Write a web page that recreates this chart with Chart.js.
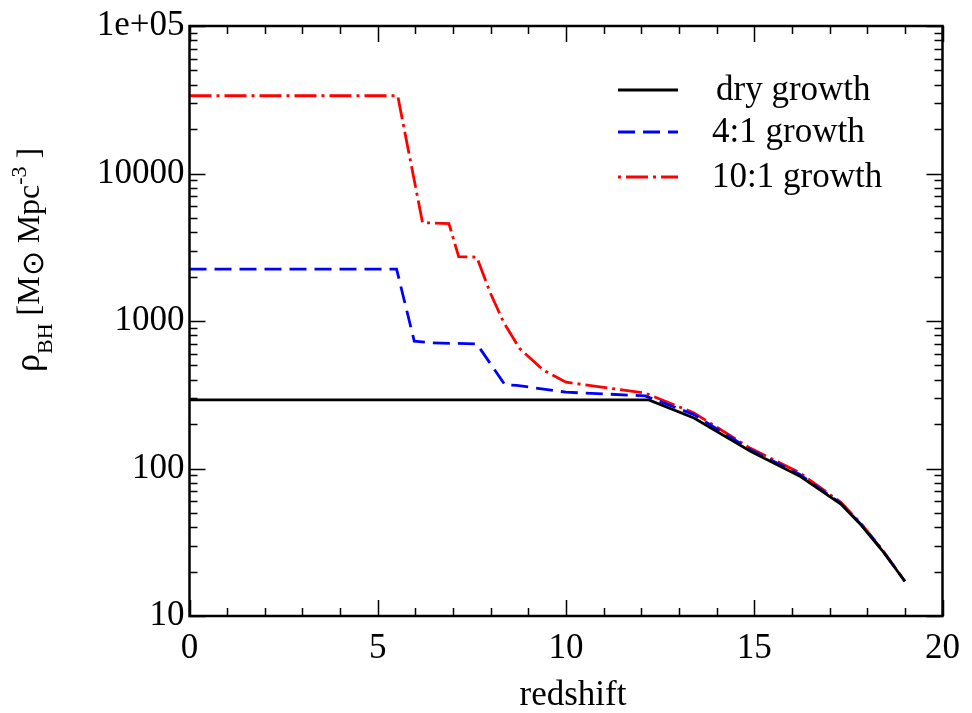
<!DOCTYPE html>
<html lang="en">
<head>
<meta charset="UTF-8">
<title>Black hole mass density vs redshift</title>
<script src="https://cdn.jsdelivr.net/npm/chart.js"></script>
<style>
  body { margin: 0; background: #fff; }
  canvas { display: block; }
</style>
</head>
<body>
<canvas id="bhChart" width="972" height="713"></canvas>
<script>
  // values
  const dryZ = [0, 12.2, 13.4, 14.9, 16.2, 17.3, 17.85, 18.4, 19.0];
  const dryRho = [292, 292, 220, 131, 89, 57.4, 41, 27.8, 17.2];

  const wet4Z = [0, 5.5, 5.97, 6.45, 7.63, 8.38, 8.69, 10.0, 12.1, 13.4, 14.9, 16.2, 17.3, 17.85, 18.4, 19.0];
  const wet4Rho = [2250, 2250, 730, 710, 700, 369, 366, 329, 311, 232, 134, 91.4, 58, 41.5, 28, 17.2];

  const wet10Z = [0, 5.53, 6.19, 6.89, 7.15, 7.63, 7.98, 8.34, 8.77, 9.39, 10.0, 11.13, 12.1, 13.4, 14.9, 16.2, 17.3, 17.85, 18.4, 19.0];
  const wet10Rho = [33650, 33650, 4640, 4570, 2730, 2710, 1570, 984, 650, 466, 385, 351, 325, 238, 137, 93.8, 59, 42, 28.2, 17.2];

  const yTickValues = [10, 100, 1000, 10000, 100000];
  const yTickLabels = ['10', '100', '1000', '10000', '1e+05'];
  const xTickValues = [0, 5, 10, 15, 20];
  const seriesNames = ['dry growth', '4:1 growth', '10:1 growth'];

  const FONT = "'Liberation Serif', 'Times New Roman', serif";
  const toPoints = (xs, ys) => xs.map((x, i) => ({ x: x, y: ys[i] }));

  const series = [
    { label: seriesNames[0], data: toPoints(dryZ, dryRho), color: '#000000', dash: [] },
    { label: seriesNames[1], data: toPoints(wet4Z, wet4Rho), color: '#0000ff', dash: [17, 8] },
    { label: seriesNames[2], data: toPoints(wet10Z, wet10Rho), color: '#ff0000', dash: [22, 5, 3, 5] }
  ];

  // frame, inward ticks, legend and axis titles (grace style)
  const graceDecor = {
    id: 'graceDecor',
    afterDraw(chart) {
      const ctx = chart.ctx;
      const a = chart.chartArea;
      const xs = chart.scales.x, ys = chart.scales.y;
      ctx.save();
      ctx.strokeStyle = '#000';

      // ticks
      ctx.lineWidth = 1.5;
      ctx.beginPath();
      for (let v = 0; v <= 20; v++) {
        const px = Math.round(xs.getPixelForValue(v)) + 0.5;
        const len = v % 5 === 0 ? 16 : 8;
        ctx.moveTo(px, a.bottom); ctx.lineTo(px, a.bottom - len);
        ctx.moveTo(px, a.top); ctx.lineTo(px, a.top + len);
      }
      for (let d = 10; d <= 100000; d *= 10) {
        for (let k = 1; k < 10; k++) {
          const v = d * k;
          if (v > 100000) break;
          const py = Math.round(ys.getPixelForValue(v)) + 0.5;
          const len = k === 1 ? 16 : 8;
          ctx.moveTo(a.left, py); ctx.lineTo(a.left + len, py);
          ctx.moveTo(a.right, py); ctx.lineTo(a.right - len, py);
        }
      }
      ctx.stroke();

      // frame
      ctx.lineWidth = 2.5;
      ctx.strokeRect(a.left, a.top, a.right - a.left, a.bottom - a.top);

      // legend
      const legY = [90, 132, 177];
      const legTextX = [716, 712, 712];
      series.forEach((s, i) => {
        ctx.strokeStyle = s.color;
        ctx.lineWidth = 2.8;
        ctx.setLineDash(s.dash);
        ctx.lineDashOffset = i === 2 ? 27 : 0;
        ctx.beginPath();
        ctx.moveTo(618, legY[i]); ctx.lineTo(678, legY[i]);
        ctx.stroke();
        ctx.setLineDash([]);
        ctx.fillStyle = '#000';
        ctx.font = '35px ' + FONT;
        ctx.textBaseline = 'middle';
        ctx.textAlign = 'left';
        ctx.fillText(s.label, legTextX[i], legY[i] + 1);
      });

      // x title
      ctx.textAlign = 'center';
      ctx.textBaseline = 'alphabetic';
      ctx.font = '35px ' + FONT;
      ctx.fillText('redshift', 573, 705);

      // y title with sub/superscripts
      ctx.translate(39, 372);
      ctx.rotate(-Math.PI / 2);
      ctx.textAlign = 'left';
      const parts = [
        { t: '\u03c1', s: 36, dy: 0 },
        { t: 'BH', s: 22, dy: 13 },
        { t: ' [M', s: 32, dy: 0 },
        { t: '\u2299', s: 30, dy: 4 },
        { t: ' Mpc', s: 32, dy: 0 },
        { t: '-3', s: 22, dy: -13 },
        { t: ' ]', s: 32, dy: 0 }
      ];
      let u = 0;
      parts.forEach(p => {
        ctx.font = p.s + 'px ' + FONT;
        ctx.fillText(p.t, u, p.dy);
        u += ctx.measureText(p.t).width;
      });
      ctx.restore();
    }
  };

  new Chart(document.getElementById('bhChart'), {
    type: 'line',
    data: {
      datasets: series.map(s => ({
        label: s.label,
        data: s.data,
        borderColor: s.color,
        borderDash: s.dash,
        borderWidth: 2.8,
        pointRadius: 0,
        tension: 0,
        fill: false
      }))
    },
    options: {
      responsive: false,
      animation: false,
      layout: { padding: { top: 22, right: 21, left: 0, bottom: 0 } },
      plugins: { legend: { display: false }, tooltip: { enabled: false } },
      scales: {
        x: {
          type: 'linear',
          min: 0, max: 20,
          grid: { display: false, drawTicks: false },
          border: { display: false },
          afterBuildTicks: scale => { scale.ticks = xTickValues.map(v => ({ value: v })); },
          ticks: { color: '#000', font: { family: FONT, size: 35 }, padding: 12, maxRotation: 0 },
          afterFit: scale => { scale.height = 97; }
        },
        y: {
          type: 'logarithmic',
          min: 10, max: 100000,
          grid: { display: false, drawTicks: false },
          border: { display: false },
          afterBuildTicks: scale => { scale.ticks = yTickValues.map(v => ({ value: v })); },
          ticks: {
            color: '#000',
            font: { family: FONT, size: 35 },
            padding: 5,
            callback: v => yTickLabels[yTickValues.indexOf(v)]
          },
          afterFit: scale => { scale.width = 189.5; }
        }
      }
    },
    plugins: [graceDecor]
  });
</script>
</body>
</html>
